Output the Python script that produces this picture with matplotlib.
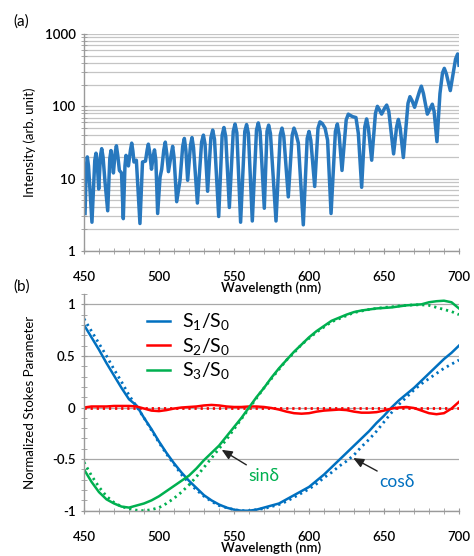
import matplotlib
matplotlib.use("Agg")
import matplotlib.pyplot as plt
from matplotlib.ticker import FixedLocator, MultipleLocator, NullFormatter, FuncFormatter

plt.rcParams["font.family"] = ["Lato", "DejaVu Sans"]
plt.rcParams["mathtext.fontset"] = "custom"
plt.rcParams["mathtext.rm"] = "Lato"

# ---- panel (a): transmitted intensity spectrum ----
wl_a = [450.7, 451.5, 452.2, 453.0, 455.3, 457.2, 458.0, 458.8, 459.8, 461.0,
        461.8, 462.7, 464.0, 465.8, 467.2, 468.0, 468.8, 469.6, 470.8, 471.6,
        472.5, 473.6, 475.0, 476.2, 477.3, 478.0, 478.8, 479.6, 481.0, 481.8,
        482.6, 483.3, 484.9, 487.3, 489.0, 491.0, 492.1, 492.9, 493.8, 495.0,
        496.2, 497.0, 497.9, 499.1, 500.7, 501.8, 503.2, 504.2, 505.2, 506.3,
        508.2, 509.1, 510.0, 511.8, 514.0, 515.8, 516.9, 517.9, 519.1, 521.0,
        522.0, 523.0, 525.6, 528.4, 529.6, 530.7, 532.4, 534.6, 535.8, 537.0,
        539.8, 542.1, 543.3, 544.5, 546.9, 549.5, 550.7, 551.9, 554.4, 557.2,
        558.4, 559.6, 562.2, 565.0, 566.2, 567.4, 570.2, 572.0, 573.1, 574.3,
        578.0, 580.8, 582.0, 583.2, 586.2, 588.8, 590.0, 591.3, 592.9, 596.2,
        598.8, 600.0, 601.2, 603.8, 606.0, 607.3, 608.8, 610.7, 612.4, 614.7,
        617.6, 618.9, 620.1, 622.0, 624.8, 626.2, 627.5, 629.1, 631.3, 632.9,
        635.1, 637.2, 638.4, 639.6, 641.8, 644.3, 645.6, 646.9, 648.4, 650.5,
        651.8, 653.2, 656.4, 658.4, 659.6, 660.8, 662.9, 666.0, 667.3, 668.7,
        670.4, 673.6, 674.9, 676.3, 678.9, 681.0, 682.2, 683.4, 685.3, 687.3,
        689.0, 690.2, 691.6, 694.2, 697.7, 699.1, 700.0]
intensity = [3.3, 14, 20, 15, 2.5, 18, 22.5, 17, 7.2, 21,
             26, 20, 9, 3.6, 19, 24.5, 18, 12, 23, 28.5,
             21, 13, 12, 2.8, 15, 21, 18, 15, 25, 31,
             24, 17, 18, 2.4, 17, 17.5, 25, 30, 23, 13.5,
             21, 25, 18, 3.3, 10.5, 13.5, 25, 32, 22, 12.5,
             22, 28, 20, 4.8, 9.5, 28, 36, 25, 9.5, 29,
             37, 27, 4.6, 32, 40, 30, 6.7, 37, 47, 35,
             3.0, 40, 51, 38, 4.0, 45, 57, 43, 2.5, 45,
             56, 42, 2.6, 47, 59, 45, 3.9, 45, 55, 42,
             2.6, 40, 50, 38, 5.6, 40, 50, 42, 31, 2.3,
             36, 45, 34, 7.8, 50, 61, 58, 50, 34, 3.3,
             45, 57, 40, 13, 65, 78, 75, 72, 70, 42,
             7.6, 52, 67, 50, 18, 80, 100, 90, 78, 95,
             104, 85, 22, 52, 66, 50, 19.6, 110, 136, 120,
             97, 160, 190, 150, 78, 95, 107, 85, 32.5, 150,
             290, 335, 280, 165, 450, 530, 370]

# ---- panel (b): normalized Stokes parameters, every 5 nm ----
wl_b = list(range(450, 701, 5))
s1_meas = [0.80, 0.68, 0.56, 0.43, 0.31, 0.19, 0.08, 0.02, -0.10, -0.21,
           -0.33, -0.44, -0.54, -0.63, -0.71, -0.78, -0.85, -0.90, -0.94, -0.97,
           -0.99, -1.00, -1.00, -0.99, -0.97, -0.95, -0.93, -0.89, -0.85, -0.81,
           -0.77, -0.71, -0.65, -0.58, -0.51, -0.44, -0.37, -0.30, -0.23, -0.15,
           -0.08, 0.00, 0.07, 0.13, 0.19, 0.26, 0.33, 0.40, 0.47, 0.53, 0.60]
cos_delta = [0.86, 0.74, 0.62, 0.50, 0.37, 0.25, 0.12, 0.01, -0.10, -0.22,
             -0.34, -0.45, -0.55, -0.65, -0.73, -0.80, -0.86, -0.91, -0.95, -0.97,
             -0.99, -1.00, -1.00, -0.99, -0.98, -0.96, -0.94, -0.91, -0.87, -0.83,
             -0.79, -0.74, -0.68, -0.63, -0.57, -0.52, -0.46, -0.38, -0.31, -0.23,
             -0.14, -0.05, 0.03, 0.10, 0.17, 0.23, 0.28, 0.33, 0.38, 0.42, 0.46]
s2_meas = [0.00, 0.01, 0.01, 0.01, 0.015, 0.015, 0.015, 0.01, -0.01, -0.03,
           -0.035, -0.025, -0.01, 0.00, 0.005, 0.01, 0.02, 0.025, 0.02, 0.01,
           0.005, 0.005, 0.01, 0.01, 0.005, -0.005, -0.02, -0.04, -0.055, -0.06,
           -0.055, -0.04, -0.03, -0.025, -0.02, -0.025, -0.04, -0.05, -0.05, -0.045,
           -0.03, -0.01, 0.00, 0.005, -0.005, -0.03, -0.055, -0.065, -0.055, -0.01, 0.055]
s2_theory = [0.0] * len(wl_b)
s3_meas = [-0.60, -0.72, -0.82, -0.89, -0.93, -0.96, -0.97, -0.95, -0.93, -0.90,
           -0.86, -0.81, -0.76, -0.71, -0.66, -0.59, -0.51, -0.44, -0.37, -0.28,
           -0.19, -0.10, 0.00, 0.10, 0.19, 0.29, 0.38, 0.46, 0.54, 0.61,
           0.68, 0.74, 0.79, 0.84, 0.87, 0.90, 0.925, 0.94, 0.95, 0.96,
           0.965, 0.97, 0.98, 0.99, 0.995, 1.00, 1.02, 1.03, 1.035, 1.02, 0.96]
sin_delta = [-0.53, -0.66, -0.77, -0.86, -0.92, -0.96, -0.98, -0.995, -1.00, -0.99,
             -0.97, -0.93, -0.88, -0.82, -0.75, -0.67, -0.58, -0.49, -0.40, -0.31,
             -0.21, -0.11, -0.01, 0.09, 0.19, 0.28, 0.37, 0.46, 0.53, 0.61,
             0.67, 0.73, 0.78, 0.83, 0.86, 0.89, 0.92, 0.935, 0.95, 0.96,
             0.97, 0.975, 0.985, 0.99, 0.995, 0.995, 0.99, 0.97, 0.95, 0.93, 0.90]

BLUE = "#0070C0"
RED = "#FF0000"
GREEN = "#00B050"
DOTS = (0, (0.8, 1.4))
W, H = 474, 556

fig = plt.figure(figsize=(W / 100, H / 100), dpi=100)
ax_a = fig.add_axes([84 / W, 1 - 251 / H, 375 / W, 217 / H])
ax_b = fig.add_axes([84 / W, 1 - 510.7 / H, 375 / W, 216.7 / H])

for ax in (ax_a, ax_b):
    for side in ("top", "right"):
        ax.spines[side].set_visible(False)
    for side in ("left", "bottom"):
        ax.spines[side].set_color("#9a9a9a")
        ax.spines[side].set_linewidth(1.0)
    ax.set_xlim(450, 700)
    ax.xaxis.set_major_locator(MultipleLocator(50))
    ax.xaxis.set_minor_locator(MultipleLocator(10))
    ax.tick_params(which="both", direction="inout", color="#9a9a9a", labelsize=9.5)
    ax.tick_params(which="major", length=5)
    ax.tick_params(which="minor", length=4)
    ax.tick_params(axis="x", pad=12)
    for lbl in ax.get_xticklabels() + ax.get_yticklabels():
        lbl.set_fontweight("semibold")
    ax.set_xlabel("Wavelength (nm)", fontsize=9.5, labelpad=-1, fontweight="semibold")
    ax.yaxis.set_label_coords(-0.127, 0.5)

# (a)
ax_a.set_yscale("log")
ax_a.set_ylim(1, 1000)
ax_a.yaxis.set_major_locator(FixedLocator([1, 10, 100, 1000]))
ax_a.yaxis.set_major_formatter(FuncFormatter(lambda v, p: f"{v:g}"))
ax_a.yaxis.set_minor_formatter(NullFormatter())
ax_a.grid(True, which="both", axis="y", color="#c4c4c4", linewidth=0.9)
ax_a.set_axisbelow(True)
ax_a.plot(wl_a, intensity, color="#2878be", linewidth=2.5, solid_joinstyle="round")
ax_a.set_ylabel("Intensity (arb. unit)", fontsize=9.5)

# (b)
ax_b.set_ylim(-1, 1.1)
ax_b.yaxis.set_major_locator(FixedLocator([-1, -0.5, 0, 0.5, 1]))
ax_b.yaxis.set_minor_locator(MultipleLocator(0.1))
ax_b.yaxis.set_major_formatter(FuncFormatter(lambda v, p: f"{v:g}"))
ax_b.grid(True, which="major", axis="y", color="#a8a8a8", linewidth=0.9)
ax_b.set_axisbelow(True)
ax_b.set_ylabel("Normalized Stokes Parameter", fontsize=9.5)

for ax in (ax_a, ax_b):
    for lbl in ax.get_xticklabels() + ax.get_yticklabels():
        lbl.set_fontweight("semibold")

ax_b.plot(wl_b, cos_delta, color=BLUE, linewidth=2.0, linestyle=DOTS)
ax_b.plot(wl_b, s2_theory, color=RED, linewidth=2.0, linestyle=DOTS)
ax_b.plot(wl_b, sin_delta, color=GREEN, linewidth=2.0, linestyle=DOTS)
l1, = ax_b.plot(wl_b, s1_meas, color=BLUE, linewidth=1.8)
l2, = ax_b.plot(wl_b, s2_meas, color=RED, linewidth=1.8)
l3, = ax_b.plot(wl_b, s3_meas, color=GREEN, linewidth=1.8)

ax_b.legend([l1, l2, l3],
            [r"$\mathregular{S_1/S_0}$", r"$\mathregular{S_2/S_0}$", r"$\mathregular{S_3/S_0}$"],
            loc="upper left", bbox_to_anchor=(0.168, 0.92), frameon=False,
            fontsize=14, handlelength=1.2, handletextpad=0.6, labelspacing=0.18,
            borderpad=0, borderaxespad=0)

arrow = dict(arrowstyle="-|>,head_length=0.5,head_width=0.22", color="#222222", lw=1.0,
             shrinkA=0, shrinkB=0)
ax_b.annotate("sinδ", xy=(541.8, -0.41), xytext=(570, -0.66), ha="center", va="center",
              color=GREEN, fontsize=12.5, arrowprops=arrow)
ax_b.annotate("cosδ", xy=(629.5, -0.49), xytext=(658.7, -0.72), ha="center", va="center",
              color=BLUE, fontsize=12.5, arrowprops=arrow)

fig.text(13 / W, 1 - 22 / H, "(a)", fontsize=11, va="center", ha="left")
fig.text(13 / W, 1 - 287 / H, "(b)", fontsize=11, va="center", ha="left")

fig.savefig("out.png", dpi=100)
